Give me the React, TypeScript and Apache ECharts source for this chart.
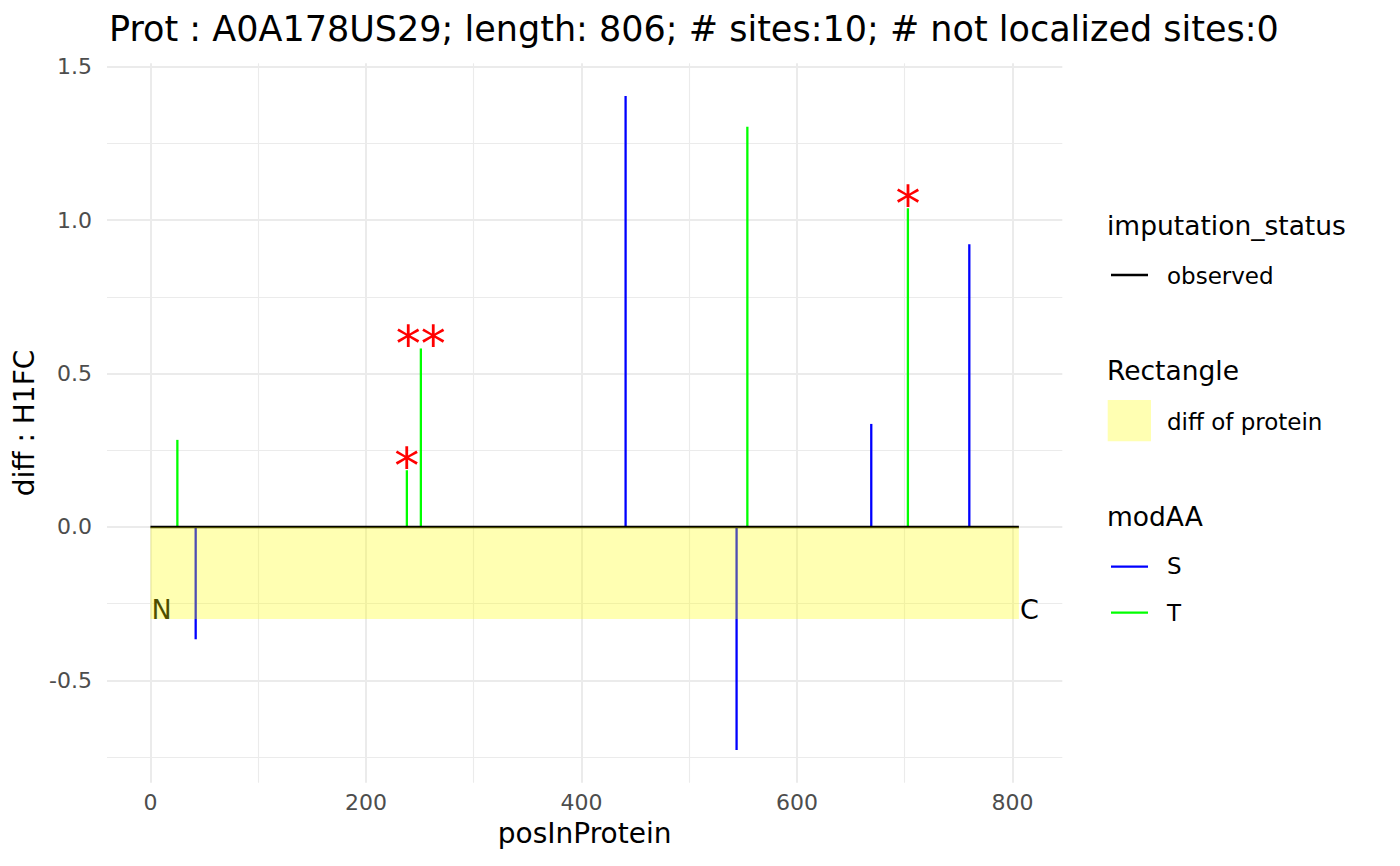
import React, { useEffect, useRef } from "react";
import * as echarts from "echarts";

// site positions along the protein, diff : H1FC values, modified residue, significance stars
const sitePos = [25, 42, 238, 251, 441, 544, 554, 669, 703, 760];
const siteDiff = [0.284, -0.366, 0.185, 0.582, 1.405, -0.727, 1.305, 0.336, 1.039, 0.922];
const siteAA = ["T", "S", "T", "T", "S", "S", "T", "S", "T", "S"];
const siteStars = ["", "", "*", "**", "", "", "", "", "*", ""];

const protLength = 806;
const protDiff = -0.3;

const xTicks = [0, 200, 400, 600, 800];
const xMinor = [100, 300, 500, 700];
const yTicks = [-0.5, 0, 0.5, 1, 1.5];
const yMinor = [-0.75, -0.25, 0.25, 0.75, 1.25];

const FONT = "DejaVu Sans";
const GRID_COLOR = "#ebebeb";
const AA_COLORS: Record<string, string> = { S: "#0000ff", T: "#00ff00" };

// ggplot style 5% expansion of the data range
const expand = (lo: number, hi: number) => {
  const pad = (hi - lo) * 0.05;
  return [lo - pad, hi + pad];
};

const App: React.FC = () => {
  const chartRef = useRef<HTMLDivElement>(null);

  useEffect(() => {
    const chart = echarts.init(chartRef.current!, undefined, { renderer: "svg" });

    const [xMin, xMax] = expand(Math.min(0, ...sitePos), Math.max(protLength, ...sitePos));
    const [yMin, yMax] = expand(Math.min(protDiff, ...siteDiff), Math.max(0, ...siteDiff));

    const gridLines = [
      ...xTicks.map((v) => ({ xAxis: v, lineStyle: { width: 2 } })),
      ...xMinor.map((v) => ({ xAxis: v, lineStyle: { width: 1.1 } })),
      ...yTicks.map((v) => ({ yAxis: v, lineStyle: { width: 2 } })),
      ...yMinor.map((v) => ({ yAxis: v, lineStyle: { width: 1.1 } }))
    ];

    const segmentSeries = (aa: string) => ({
      type: "custom",
      name: aa,
      z: 2,
      data: sitePos
        .map((p, i) => [p, siteDiff[i], siteAA[i]])
        .filter((d) => d[2] === aa),
      renderItem: (_params: any, api: any) => {
        const p0 = api.coord([api.value(0), 0]);
        const p1 = api.coord([api.value(0), api.value(1)]);
        return {
          type: "line",
          shape: { x1: p0[0], y1: p0[1], x2: p1[0], y2: p1[1] },
          style: { stroke: AA_COLORS[aa], lineWidth: 2.3 }
        };
      }
    });

    const legendText = (text: string, x: number, y: number, size: number) => ({
      type: "text",
      x,
      y,
      style: { text, font: `${size}px "${FONT}"`, fill: "#000", verticalAlign: "middle" }
    });
    const legendLine = (y: number, color: string) => ({
      type: "line",
      shape: { x1: 1111, y1: y, x2: 1148, y2: y },
      style: { stroke: color, lineWidth: 2.3 }
    });

    chart.setOption({
      animation: false,
      title: {
        text: `Prot : A0A178US29; length: ${protLength}; # sites:${sitePos.length}; # not localized sites:0`,
        left: 104,
        top: 6,
        textStyle: { fontFamily: FONT, fontSize: 35, fontWeight: "normal", color: "#000" }
      },
      grid: { left: 107, right: 337.7, top: 63.3, bottom: 83.3 },
      xAxis: {
        type: "value",
        min: xMin,
        max: xMax,
        axisLine: { show: false },
        axisTick: { show: false },
        splitLine: { show: false },
        axisLabel: {
          customValues: xTicks,
          color: "#4d4d4d",
          fontFamily: FONT,
          fontSize: 22,
          margin: 9
        },
        name: "posInProtein",
        nameLocation: "middle",
        nameGap: 37,
        nameTextStyle: { fontFamily: FONT, fontSize: 28, color: "#000" }
      },
      yAxis: {
        type: "value",
        min: yMin,
        max: yMax,
        axisLine: { show: false },
        axisTick: { show: false },
        splitLine: { show: false },
        axisLabel: {
          customValues: yTicks,
          formatter: (v: number) => v.toFixed(1),
          color: "#4d4d4d",
          fontFamily: FONT,
          fontSize: 22,
          margin: 15
        },
        name: "diff : H1FC",
        nameLocation: "middle",
        nameGap: 66,
        nameTextStyle: { fontFamily: FONT, fontSize: 28, color: "#000" }
      },
      series: [
        {
          type: "line",
          name: "grid",
          data: [],
          z: 1,
          markLine: {
            z: 1,
            silent: true,
            symbol: "none",
            label: { show: false },
            lineStyle: { color: GRID_COLOR, type: "solid" },
            data: gridLines
          }
        },
        segmentSeries("S"),
        segmentSeries("T"),
        {
          type: "line",
          name: "observed",
          z: 3,
          data: [
            [0, 0],
            [protLength, 0]
          ],
          symbol: "none",
          lineStyle: { color: "#000", width: 2.3 }
        },
        {
          type: "custom",
          name: "ends",
          z: 3,
          data: [
            [0, protDiff, "N"],
            [protLength, protDiff, "C"]
          ],
          renderItem: (_params: any, api: any) => {
            const p = api.coord([api.value(0), api.value(1)]);
            return {
              type: "text",
              x: p[0] + 1,
              y: p[1] - 10,
              style: {
                text: api.value(2),
                font: `27px "${FONT}"`,
                fill: "#000",
                align: "left",
                verticalAlign: "middle"
              }
            };
          }
        },
        {
          type: "custom",
          name: "diff of protein",
          z: 4,
          data: [[0, protLength, protDiff]],
          renderItem: (_params: any, api: any) => {
            const a = api.coord([api.value(0), 0]);
            const b = api.coord([api.value(1), api.value(2)]);
            return {
              type: "rect",
              shape: { x: a[0], y: a[1], width: b[0] - a[0], height: b[1] - a[1] },
              style: { fill: "rgba(255,255,0,0.3)" }
            };
          }
        },
        {
          type: "custom",
          name: "stars",
          z: 5,
          data: sitePos
            .map((p, i) => [p, siteDiff[i], siteStars[i]])
            .filter((d) => d[2] !== ""),
          renderItem: (_params: any, api: any) => {
            const p = api.coord([api.value(0), api.value(1)]);
            return {
              type: "text",
              x: p[0],
              y: p[1] - 4,
              style: {
                text: api.value(2),
                font: `50px "${FONT}"`,
                fill: "#ff0000",
                align: "center",
                verticalAlign: "middle"
              }
            };
          }
        }
      ],
      graphic: [
        legendText("imputation_status", 1107, 225.5, 26.5),
        legendLine(275, "#000"),
        legendText("observed", 1167, 275.7, 23),
        legendText("Rectangle", 1107, 370.5, 26.5),
        {
          type: "rect",
          shape: { x: 1107.7, y: 400, width: 43.3, height: 41.3 },
          style: { fill: "rgba(255,255,0,0.3)" }
        },
        legendText("diff of protein", 1167, 421.7, 23),
        legendText("modAA", 1107, 516.5, 26.5),
        legendLine(566.7, AA_COLORS.S),
        legendText("S", 1167, 566.4, 23),
        legendLine(612.7, AA_COLORS.T),
        legendText("T", 1167, 613, 23)
      ]
    });

    const handleResize = () => chart.resize();
    window.addEventListener("resize", handleResize);

    return () => {
      chart.dispose();
      window.removeEventListener("resize", handleResize);
    };
  }, []);

  return (
    <div
      ref={chartRef}
      style={{ position: "fixed", left: 0, top: 0, width: "1400px", height: "866px", background: "#fff" }}
    />
  );
};

export default App;
